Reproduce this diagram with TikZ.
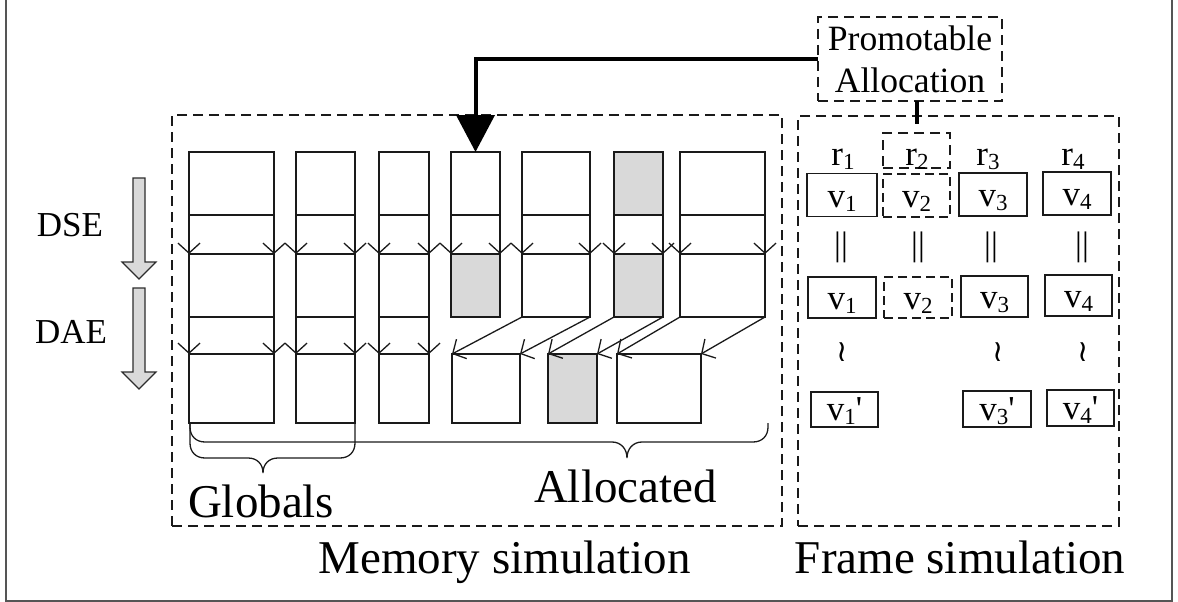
\documentclass[tikz,border=0pt]{standalone}
\usepackage{fontspec}
\newfontfamily\tnr{Liberation Serif}
\newfontfamily\symfont{DejaVu Sans}
\usetikzlibrary{arrows.meta}
\definecolor{cellgray}{HTML}{D9D9D9}
\definecolor{ink}{HTML}{1A1A1A}
\definecolor{framegray}{HTML}{555555}
\newcommand\fsz[1]{\fontsize{#1}{#1}\selectfont}
\newcommand\lowsub[1]{\raisebox{-4pt}{\fontsize{23}{23}\selectfont #1}}

\begin{document}
\begin{tikzpicture}[x=1pt,y=-1pt,
  cell/.style 2 args={draw=ink, line width=1.3pt, inner sep=0pt, outer sep=0pt,
    minimum width=#1pt, minimum height=#2pt},
  dashbox/.style 2 args={draw=ink, line width=1.3pt, dash pattern=on 10pt off 6pt,
    inner sep=0pt, outer sep=0pt, minimum width=#1pt, minimum height=#2pt},
  vbox/.style={inner sep=0pt, outer sep=0pt, font=\tnr\fsz{35},
    text height=24pt, text depth=0pt, minimum height=43pt, minimum width=68pt},
  memflow/.style={draw=ink, line width=1.3pt, -{Straight Barb[length=10pt,width=22pt]}},
  promoline/.style={draw=black, line width=4pt},
  blockarrow/.style={fill=cellgray, draw=gray!35!black, line width=1.2pt},
  lbl/.style={inner sep=0pt, outer sep=0pt, anchor=base},
  eqsign/.style={font=\tnr\fsz{34}, inner sep=0pt},
  simsign/.style={font=\symfont\fsz{30}, inner sep=0pt},
]
\useasboundingbox (0,0) rectangle (1178,602);

% figure frame
\draw[framegray, line width=1.5pt] (6,0) -- (6,601) -- (1172,601) -- (1172,0);

% ---------- memory simulation ----------
\node[dashbox={610}{411}] (memsim) at (477,320.5) {};

% first state
\node[cell={85}{63}] (a1) at (231.5,183.5) {};
\node[cell={59}{63}] (a2) at (325.5,183.5) {};
\node[cell={50}{63}] (a3) at (404,183.5) {};
\node[cell={49}{63}] (a4) at (475.5,183.5) {};
\node[cell={68}{63}] (a5) at (556,183.5) {};
\node[cell={49}{63},fill=cellgray] (a6) at (638.5,183.5) {};
\node[cell={85}{63}] (a7) at (722.5,183.5) {};

% after DSE
\node[cell={85}{63}] (b1) at (231.5,285.5) {};
\node[cell={59}{63}] (b2) at (325.5,285.5) {};
\node[cell={50}{63}] (b3) at (404,285.5) {};
\node[cell={49}{63},fill=cellgray] (b4) at (475.5,285.5) {};
\node[cell={68}{63}] (b5) at (556,285.5) {};
\node[cell={49}{63},fill=cellgray] (b6) at (638.5,285.5) {};
\node[cell={85}{63}] (b7) at (722.5,285.5) {};

% after DAE
\node[cell={85}{69}] (c1) at (231.5,388.5) {};
\node[cell={59}{69}] (c2) at (325.5,388.5) {};
\node[cell={50}{69}] (c3) at (404,388.5) {};
\node[cell={68}{69}] (c4) at (486,388.5) {};
\node[cell={49}{69},fill=cellgray] (c5) at (572.5,388.5) {};
\node[cell={84}{69}] (c6) at (659,388.5) {};

\foreach \i in {1,...,7} {
  \draw[memflow] (a\i.south west) -- (b\i.north west);
  \draw[memflow] (a\i.south east) -- (b\i.north east);
}
\foreach \i in {1,2,3} {
  \draw[memflow] (b\i.south west) -- (c\i.north west);
  \draw[memflow] (b\i.south east) -- (c\i.north east);
}
\foreach \s/\t in {5/4,6/5,7/6} {
  \draw[memflow] (b\s.south west) -- (c\t.north west);
  \draw[memflow] (b\s.south east) -- (c\t.north east);
}

% braces
\draw[ink, line width=1.3pt]
  (190,423) -- (190,443) .. controls (190,452) and (196,458) .. (205,458)
  -- (248,458) .. controls (257,458) and (263,464) .. (263,473)
  .. controls (263,464) and (269,458) .. (278,458)
  -- (340,458) .. controls (349,458) and (355,452) .. (355,443) -- (355,423);
\draw[ink, line width=1.3pt]
  (190,423) -- (190,427) .. controls (190,436) and (196,442) .. (205,442)
  -- (612,442) .. controls (621,442) and (627,449) .. (627,458)
  .. controls (627,449) and (633,442) .. (642,442)
  -- (753,442) .. controls (762,442) and (768,436) .. (768,427) -- (768,423);

\node[lbl, anchor=base west, font=\tnr\fsz{47}] (globals) at (188,517) {Globals};
\node[lbl, anchor=base west, font=\tnr\fsz{47}] (allocated) at (534,502) {Allocated};
\node[lbl, font=\tnr\fsz{47}] (memtitle) at (504.5,573) {Memory simulation};

% phase arrows
\draw[blockarrow] (133,178) -- (145,178) -- (145,262) -- (156,262) -- (139,279)
  -- (122,262) -- (133,262) -- cycle;
\draw[blockarrow] (133,288) -- (145,288) -- (145,372) -- (156,372) -- (139,389)
  -- (122,372) -- (133,372) -- cycle;
\node[lbl, font=\tnr\fsz{35}] (dse) at (70,236) {DSE};
\node[lbl, font=\tnr\fsz{35}] (dae) at (71,343) {DAE};

% ---------- frame simulation ----------
\node[dashbox={321}{410}] (framesim) at (958.5,321) {};
\node[lbl, font=\tnr\fsz{47}] (frametitle) at (960,573) {Frame simulation};

\node[lbl, font=\tnr\fsz{35}] (r1) at (843,165) {r\lowsub{1}};
\node[dashbox={67}{35}] (r2box) at (916.5,150.5) {};
\node[lbl, font=\tnr\fsz{35}] (r2) at (917,165) {r\lowsub{2}};
\node[lbl, font=\tnr\fsz{35}] (r3) at (988,165) {r\lowsub{3}};
\node[lbl, font=\tnr\fsz{35}] (r4) at (1073,165) {r\lowsub{4}};

\node[vbox, draw=ink, line width=1.3pt, minimum width=70pt] (v1) at (842,195) {v\lowsub{1}};
\node[vbox, draw=ink, line width=1.3pt, dash pattern=on 9pt off 5pt, minimum width=67pt] (v2) at (916.5,195.5) {v\lowsub{2}};
\node[vbox, draw=ink, line width=1.3pt] (v3) at (993,194.5) {v\lowsub{3}};
\node[vbox, draw=ink, line width=1.3pt] (v4) at (1077,193.5) {v\lowsub{4}};

\node[eqsign] (eq1) at (841,247) {||};
\node[eqsign] (eq2) at (918,247) {||};
\node[eqsign] (eq3) at (991,247) {||};
\node[eqsign] (eq4) at (1082,247) {||};

\node[vbox, draw=ink, line width=1.3pt, minimum height=41pt] (w1) at (842,297.5) {v\lowsub{1}};
\node[vbox, draw=ink, line width=1.3pt, dash pattern=on 9pt off 5pt, minimum height=41pt] (w2) at (918,297.5) {v\lowsub{2}};
\node[vbox, draw=ink, line width=1.3pt, minimum height=41pt, minimum width=67pt] (w3) at (994.5,296.5) {v\lowsub{3}};
\node[vbox, draw=ink, line width=1.3pt, minimum height=41pt, minimum width=67pt] (w4) at (1078.5,295.5) {v\lowsub{4}};

\node[simsign] (sim1) at (842,352) {≀};
\node[simsign] (sim3) at (998,352) {≀};
\node[simsign] (sim4) at (1083,352) {≀};

\node[vbox, draw=ink, line width=1.3pt, minimum height=35pt, minimum width=67pt, text height=22pt] (p1) at (844.5,409.5) {v\lowsub{1}'};
\node[vbox, draw=ink, line width=1.3pt, minimum height=36pt, text height=22pt] (p3) at (997,409) {v\lowsub{3}'};
\node[vbox, draw=ink, line width=1.3pt, minimum height=36pt, minimum width=67pt, text height=22pt] (p4) at (1080.5,408) {v\lowsub{4}'};

% ---------- promotable allocation ----------
\node[dashbox={184}{84}, align=center, font=\tnr\fontsize{35.6}{42}\selectfont] (promo) at (910,59) {Promotable\\Allocation};
\coordinate (linkend) at (917,124);
\draw[promoline] (promo.south -| linkend) -- (linkend);
\draw[promoline, -{Triangle[length=37pt,width=38pt]}] (promo.west) -| (a4.north);
\end{tikzpicture}
\end{document}
